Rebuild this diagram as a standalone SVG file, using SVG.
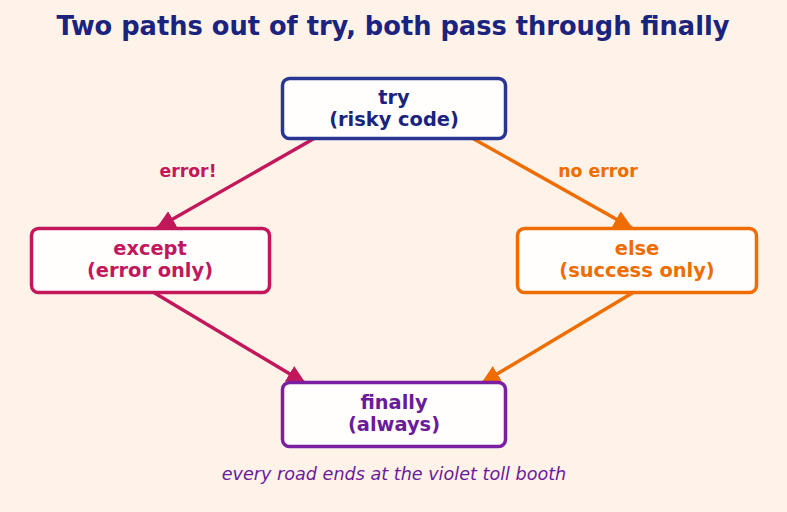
<svg xmlns="http://www.w3.org/2000/svg" width="787" height="512" viewBox="0 0 787 512">
<style>
.bg{fill:#FFF2E8}
.node{fill:#FFFEFD;stroke-width:3.5}
.nt{font-family:"DejaVu Sans","Liberation Sans",sans-serif;font-weight:bold;font-size:19.4px;text-anchor:middle}
.edge{fill:none;stroke-width:3.4}
.lbl{font-family:"DejaVu Sans","Liberation Sans",sans-serif;font-weight:bold;font-size:17.3px;text-anchor:middle}
</style>
<defs>
<marker id="ah-r" markerUnits="userSpaceOnUse" markerWidth="20" markerHeight="20" viewBox="0 0 20 20" refX="18" refY="10" orient="auto"><path d="M0,1 L19,10 L0,19 Z" fill="#C2185B"/></marker>
<marker id="ah-o" markerUnits="userSpaceOnUse" markerWidth="20" markerHeight="20" viewBox="0 0 20 20" refX="18" refY="10" orient="auto"><path d="M0,1 L19,10 L0,19 Z" fill="#EF6C00"/></marker>
</defs>
<rect class="bg" x="0" y="0" width="787" height="512"/>
<text x="393" y="35" font-family="'DejaVu Sans Condensed','DejaVu Sans',sans-serif" font-stretch="condensed" font-weight="bold" font-size="26.5" fill="#1A237E" text-anchor="middle" textLength="673" lengthAdjust="spacingAndGlyphs">Two paths out of try, both pass through finally</text>
<g id="connectors">
<line class="edge" x1="315" y1="138" x2="157" y2="228" stroke="#C2185B" marker-end="url(#ah-r)"/>
<line class="edge" x1="472" y1="138" x2="632" y2="228" stroke="#EF6C00" marker-end="url(#ah-o)"/>
<line class="edge" x1="153" y1="292" x2="305" y2="383" stroke="#C2185B" marker-end="url(#ah-r)"/>
<line class="edge" x1="634" y1="292" x2="482" y2="383" stroke="#EF6C00" marker-end="url(#ah-o)"/>
<text class="lbl" x="188" y="177" fill="#C2185B">error!</text>
<text class="lbl" x="598" y="177" fill="#EF6C00">no error</text>
</g>
<g id="node-try">
<rect class="node" x="282.5" y="78.5" width="223" height="60" rx="7" stroke="#283593"/>
<text class="nt" x="394" y="104" fill="#1A237E">try</text>
<text class="nt" x="394" y="126" fill="#1A237E">(risky code)</text>
</g>
<g id="node-except">
<rect class="node" x="31.5" y="228.5" width="238" height="64" rx="7" stroke="#C2185B"/>
<text class="nt" x="150" y="255" fill="#C2185B">except</text>
<text class="nt" x="150" y="277" fill="#C2185B">(error only)</text>
</g>
<g id="node-else">
<rect class="node" x="517.5" y="228.5" width="239" height="64" rx="7" stroke="#EF6C00"/>
<text class="nt" x="637" y="255" fill="#EF6C00">else</text>
<text class="nt" x="637" y="277" fill="#EF6C00">(success only)</text>
</g>
<g id="node-finally">
<rect class="node" x="282.5" y="382.5" width="223" height="64" rx="7" stroke="#7B1FA2"/>
<text class="nt" x="394" y="409" fill="#6A1B9A">finally</text>
<text class="nt" x="394" y="431" fill="#6A1B9A">(always)</text>
</g>
<text x="394" y="480" font-family="'DejaVu Sans','Liberation Sans',sans-serif" font-style="italic" font-size="17.6" fill="#6A1B9A" text-anchor="middle">every road ends at the violet toll booth</text>
</svg>
